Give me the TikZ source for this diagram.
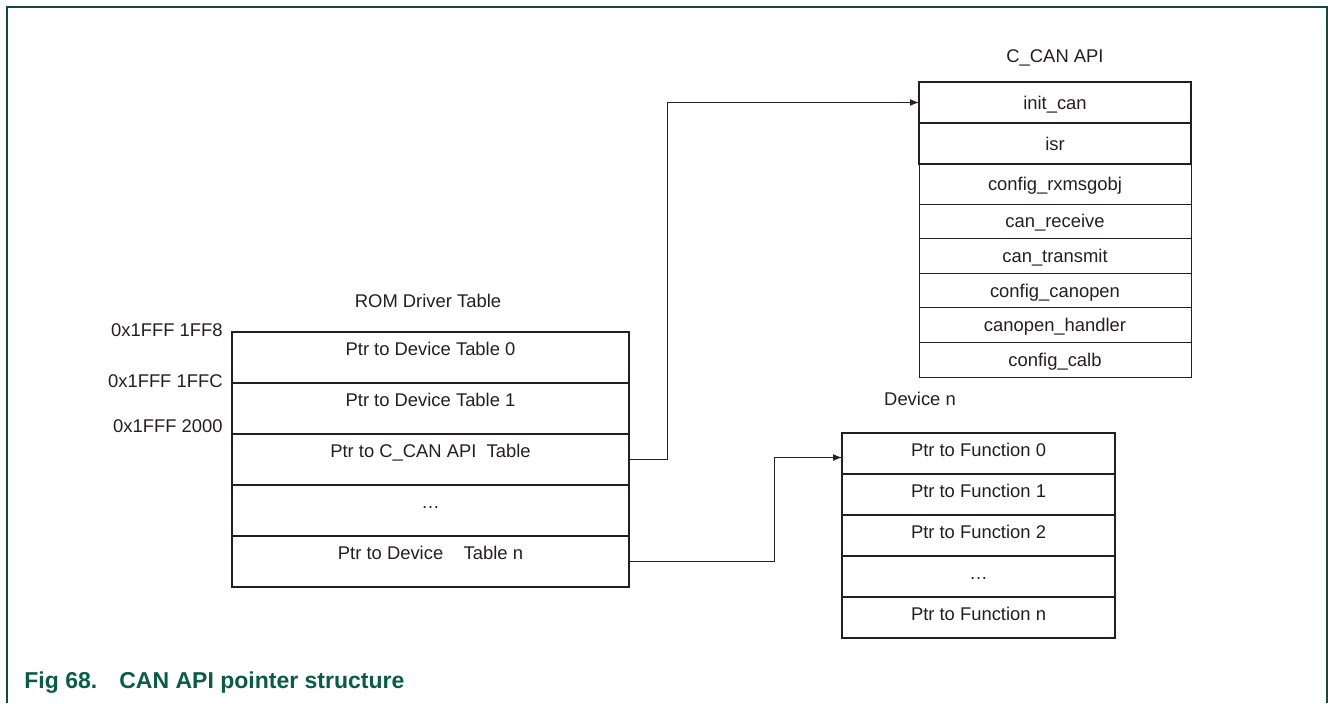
\documentclass[tikz,border=0pt]{standalone}
\usepackage{fontspec}
\setmainfont{Liberation Sans}
\usepackage{tikz}
\usetikzlibrary{arrows.meta, positioning}

\definecolor{ink}{HTML}{231F20}
\definecolor{framegreen}{HTML}{124A3E}
\definecolor{capgreen}{HTML}{0A5C47}

\begin{document}
\begin{tikzpicture}[
      x=0.5pt, y=-0.5pt,
      >={Latex[length=4.5pt,width=3.4pt]},
      font=\fontsize{9.2}{11}\selectfont,
      romcell/.style={draw=ink, line width=1.2pt, rectangle, outer sep=0pt,
                      minimum width=198.5pt, minimum height=25.5pt,
                      text height=6.6pt, text depth=8.2pt, text=ink},
      apicell/.style={draw=ink, line width=0.5pt, rectangle, outer sep=0pt,
                      minimum width=136pt, minimum height=17.3pt,
                      text height=6.6pt, text depth=0pt, text=ink},
      apibold/.style={apicell, line width=1.2pt, minimum height=20.5pt},
      devcell/.style={draw=ink, line width=1.2pt, rectangle, outer sep=0pt,
                      minimum width=136.5pt, minimum height=20.5pt,
                      text height=6.6pt, text depth=3.2pt, text=ink},
      title/.style={anchor=base, text=ink},
      addr/.style={anchor=base east, inner sep=0pt, text=ink},
      arr/.style={->, line width=0.5pt, draw=ink}
    ]
      \useasboundingbox (0,0) rectangle (1328,703);
      \draw[framegreen, line width=0.7pt] (7,703) -- (7,7) -- (1327,7) -- (1327,703);

      % ROM driver table
      \node[title] (romtitle) at (428,307) {ROM Driver Table};
      \node[romcell] (rom0) at (430.5,357.5) {Ptr to Device Table 0};
      \node[romcell, below=0pt of rom0] (rom1) {Ptr to Device Table 1};
      \node[romcell, below=0pt of rom1] (rom2) {Ptr to C\_CAN API\ \ Table};
      \node[romcell, below=0pt of rom2] (rom3) {\dots};
      \node[romcell, below=0pt of rom3] (rom4) {Ptr to Device\ \ \ \ Table n};
      \node[addr] (addr0) at (223,336) {0x1FFF 1FF8};
      \node[addr] (addr1) at (223,387) {0x1FFF 1FFC};
      \node[addr] (addr2) at (223,432) {0x1FFF 2000};

      % C_CAN API table
      \node[title] (apititle) at (1055,62) {C\_CAN API};
      \node[apibold] (api0) at (1055,102.5) {init\_can};
      \node[apibold, below=0pt of api0] (api1) {isr};
      \node[apicell, below=0pt of api1, minimum height=20pt] (api2) {config\_rxmsgobj};
      \node[apicell, below=0pt of api2] (api3) {can\_receive};
      \node[apicell, below=0pt of api3] (api4) {can\_transmit};
      \node[apicell, below=0pt of api4] (api5) {config\_canopen};
      \node[apicell, below=0pt of api5] (api6) {canopen\_handler};
      \node[apicell, below=0pt of api6] (api7) {config\_calb};

      % Device n table
      \node[title] (devtitle) at (920,405) {Device n};
      \node[devcell] (dev0) at (978.5,453.5) {Ptr to Function 0};
      \node[devcell, below=0pt of dev0] (dev1) {Ptr to Function 1};
      \node[devcell, below=0pt of dev1] (dev2) {Ptr to Function 2};
      \node[devcell, below=0pt of dev2] (dev3) {\dots};
      \node[devcell, below=0pt of dev3] (dev4) {Ptr to Function n};

      \draw[arr] (rom2.east) -- ++(38,0) |- (api0.west);
      \draw[arr] (rom4.east) -- ++(145,0) |- ([yshift=-2pt]dev0.west);

      \node[anchor=base west, inner sep=0pt, text=capgreen,
            font=\fontsize{11.5}{13}\selectfont\bfseries] (caption) at (24,688)
            {\makebox[47.5pt][l]{Fig 68.}CAN API pointer structure};
    \end{tikzpicture}
\end{document}
